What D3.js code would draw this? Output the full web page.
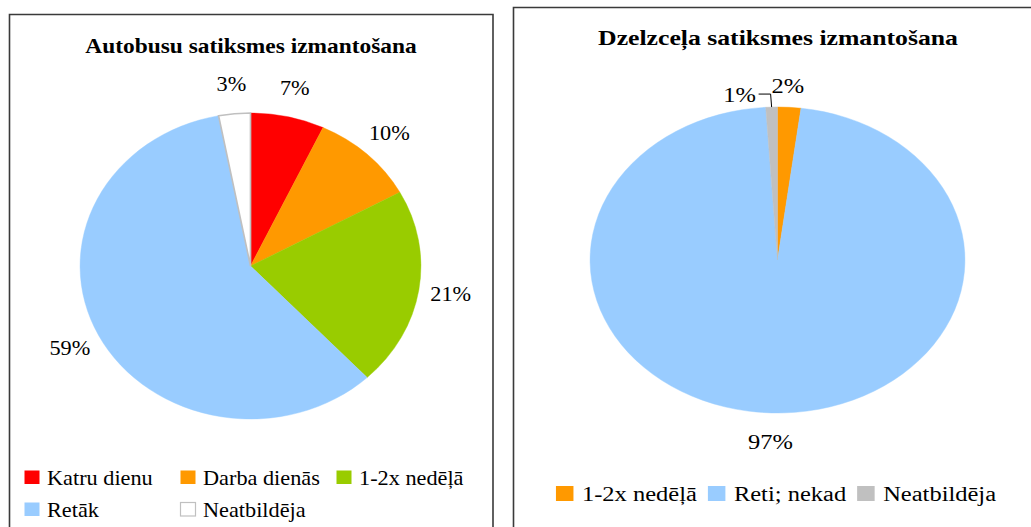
<!DOCTYPE html>
<html><head><meta charset="utf-8">
<script src="https://cdn.jsdelivr.net/npm/d3@7"></script>
<style>body{margin:0;background:#fff}svg{display:block}</style>
</head><body>
<script>
// Left chart data
const busTitle = "Autobusu satiksmes izmantošana";
const busCategories = ["Katru dienu", "Darba dienās", "1-2x nedēļā", "Retāk", "Neatbildēja"];
const busValues = [7, 10, 21, 59, 3];
const busColors = ["#FF0000", "#FF9900", "#99CC00", "#99CCFF", "#FFFFFF"];
// Right chart data
const railTitle = "Dzelzceļa satiksmes izmantošana";
const railCategories = ["1-2x nedēļā", "Reti; nekad", "Neatbildēja"];
const railValues = [2, 97, 1];
const railColors = ["#FF9900", "#99CCFF", "#C0C0C0"];

const FONT = "Liberation Serif";
const W = 1031, H = 527;
const svg = d3.select("body").append("svg").attr("width", W).attr("height", H);
const fmt = v => d3.format(".0f")(v) + "%";

// panel borders
svg.append("path").attr("d", "M9.5,540V14.5H493V540").attr("fill", "none").attr("stroke", "#3a3a3a").attr("stroke-width", 1.6);
svg.append("path").attr("d", "M513.5,540V7.5H1040").attr("fill", "none").attr("stroke", "#3a3a3a").attr("stroke-width", 1.6);

function stext(x, y, sx, str, opts = {}) {
  return svg.append("text")
    .attr("transform", `translate(${x},${y}) scale(${sx},1)`)
    .attr("font-family", FONT)
    .attr("fill", "#000")
    .attr("font-size", opts.size || 20)
    .attr("font-weight", opts.weight || "normal")
    .attr("text-anchor", opts.anchor || "start")
    .attr("dy", opts.dy || 0)
    .text(str);
}

function drawPie(cfg) {
  const { cx, cy, sx, r, values, colors } = cfg;
  const pie = d3.pie().sort(null).value(d => d);
  const arcs = pie(values);
  const arc = d3.arc().innerRadius(0).outerRadius(r);
  const g = svg.append("g").attr("transform", `translate(${cx},${cy}) scale(${sx},1)`);
  g.selectAll("path").data(arcs).join("path")
    .attr("d", arc)
    .attr("fill", (d, i) => colors[i])
    .attr("stroke", (d, i) => colors[i] === "#FFFFFF" ? "#C0C0C0" : colors[i])
    .attr("stroke-width", (d, i) => colors[i] === "#FFFFFF" ? 1.5 : 0.4);
  return arcs;
}

// ---- Left pie ----
const L = { cx: 250.5, cy: 266, sx: 1.114, r: 153 };
const busArcs = drawPie({ ...L, values: busValues, colors: busColors });
stext(251, 53, L.sx, busTitle, { size: 21, weight: "bold", anchor: "middle" });
busArcs.forEach((a, i) => {
  const m = (a.startAngle + a.endAngle) / 2, R = 182;
  stext(L.cx + L.sx * R * Math.sin(m), L.cy - R * Math.cos(m), L.sx, fmt(busValues[i]), { anchor: "middle", dy: "0.33em" });
});
// legend left (3 columns)
busCategories.forEach((c, i) => {
  const col = i % 3, row = Math.floor(i / 3);
  const x = 24 + col * 156, y = 470 + row * 32;
  svg.append("rect").attr("x", x + 0.5).attr("y", y + 0.5).attr("width", 15).attr("height", 13.5)
    .attr("fill", busColors[i]).attr("stroke", busColors[i] === "#FFFFFF" ? "#C0C0C0" : "none").attr("stroke-width", 1.2);
  stext(x + 23, y + 15, L.sx, c);
});

// ---- Right pie ----
const Rt = { cx: 777.5, cy: 260, sx: 1.225, r: 153 };
const railArcs = drawPie({ ...Rt, values: railValues, colors: railColors });
stext(778, 45, Rt.sx, railTitle, { size: 21, weight: "bold", anchor: "middle" });
railArcs.forEach((a, i) => {
  const m = (a.startAngle + a.endAngle) / 2;
  if (i === railArcs.length - 1) {
    const px = Rt.cx + Rt.sx * Rt.r * Math.sin(m), py = Rt.cy - Rt.r * Math.cos(m);
    svg.append("path").attr("d", `M${px - 13},${py - 13}H${px - 1}L${px},${py}`)
      .attr("fill", "none").attr("stroke", "#000").attr("stroke-width", 1);
    stext(px - 32, py - 12, Rt.sx, fmt(railValues[i]), { anchor: "middle", dy: "0.33em" });
  } else {
    const R = i === 0 ? 174 : 182;
    stext(Rt.cx + Rt.sx * R * Math.sin(m) - (i === 0 ? 3 : 0), Rt.cy - R * Math.cos(m), Rt.sx, fmt(railValues[i]), { anchor: "middle", dy: "0.33em" });
  }
});
// legend right (single row, centered)
let items = [], total = 0;
railCategories.forEach((c, i) => {
  const t = stext(0, 501, Rt.sx, c);
  const w = t.node().getComputedTextLength() * Rt.sx;
  items.push({ t, w, i });
  total += 26 + w + (i < railCategories.length - 1 ? 11 : 0);
});
let x0 = 776 - total / 2;
items.forEach(it => {
  svg.append("rect").attr("x", x0).attr("y", 486).attr("width", 17.5).attr("height", 15).attr("fill", railColors[it.i]);
  it.t.attr("transform", `translate(${x0 + 26},501) scale(${Rt.sx},1)`);
  x0 += 26 + it.w + 11;
});
</script>
</body></html>
